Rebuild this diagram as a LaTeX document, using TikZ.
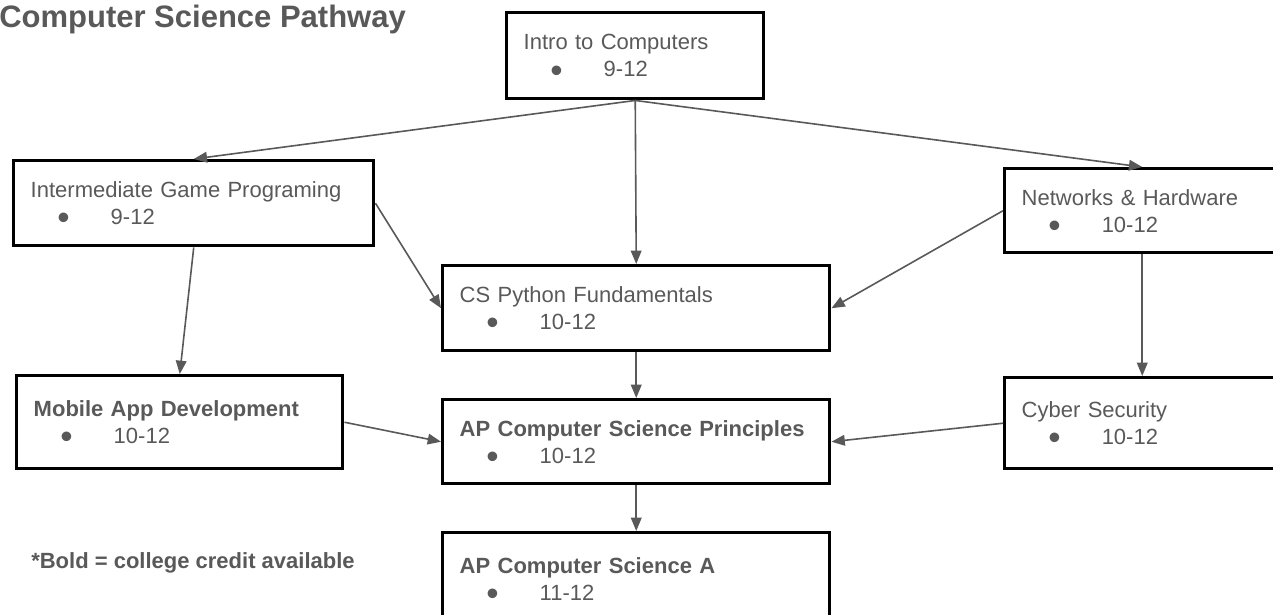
\documentclass[tikz,border=0pt]{standalone}
\usepackage{fontspec}
\usepackage{graphicx}
\setmainfont{Liberation Sans}
\usetikzlibrary{arrows.meta}

\definecolor{textgray}{RGB}{89,89,89}
\definecolor{linegray}{RGB}{89,89,89}
\newcommand{\grades}[1]{\hspace*{20pt}\makebox[40pt][l]{\smash{\raisebox{-3.9pt}{\scalebox{1.6}{\textbullet}}}}#1}

\begin{document}
\begin{tikzpicture}[x=0.75pt, y=-0.75pt,
    course/.style={draw=black, line width=2.6pt, anchor=north west, align=left,
        inner xsep=12.75pt, inner ysep=3pt, text=textgray,
        font=\fontsize{16.5pt}{20.25pt}\selectfont},
    link/.style={draw=linegray, line width=1.2pt, -{Triangle[length=10pt, width=8pt]}},
    caption/.style={anchor=base west, inner sep=0pt, text=textgray}]
                \useasboundingbox (0, 0) rectangle (1273, 614);
                \clip (0, 0) rectangle (1273, 614);
                % Headings
                \node (title) [caption, font=\bfseries\fontsize{23.25pt}{28pt}\selectfont] at (-1, 27) {Computer Science Pathway};
                \node (note) [caption, font=\bfseries\fontsize{16.5pt}{20pt}\selectfont] at (31, 568) {*Bold = college credit available};
                % Row 1
                \node (intro) [course, text width=167.25pt, minimum height=64.5pt] at (505, 11) {Intro to Computers\\\grades{9-12}};
                % Row 2
                \node (game) [course, text width=244.5pt, minimum height=63.75pt] at (12, 159) {Intermediate Game Programing\\\grades{9-12}};
                \node (net) [course, text width=180.75pt, minimum height=63pt] at (1003, 167) {Networks \& Hardware\\\grades{10-12}};
                % Row 3
                \node (python) [course, text width=264.75pt, minimum height=63.75pt] at (441, 264) {CS Python Fundamentals\\\grades{10-12}};
                % Row 4
                \node (mobile) [course, text width=219pt, minimum height=69.75pt] at (15, 374) {\textbf{Mobile App Development}\\\grades{10-12}};
                \node (apcsp) [course, text width=264.75pt, minimum height=63pt] at (441, 398) {\textbf{AP Computer Science Principles}\\\grades{10-12}};
                \node (cyber) [course, text width=180.75pt, minimum height=68.25pt] at (1003, 376) {Cyber Security\\\grades{10-12}};
                % Row 5
                \node (apcsa) [course, text width=264.75pt, minimum height=69pt] at (441, 531) {\textbf{AP Computer Science A}\\\grades{11-12}};
                % From the intro course
                \draw [link] (intro.south) -- (game.north);
                \draw [link] (intro.south) -- (python.north);
                \draw [link] (intro.south) -- (net.north);
                % Side courses
                \draw [link] (game.east) -- (python.west);
                \draw [link] (game.south) -- (mobile.north);
                \draw [link] (net.west) -- (python.east);
                \draw [link] (net.south) -- (cyber.north);
                % Into the AP courses
                \draw [link] (python.south) -- (apcsp.north);
                \draw [link] (mobile.east) -- (apcsp.west);
                \draw [link] (cyber.west) -- (apcsp.east);
                \draw [link] (apcsp.south) -- (apcsa.north);
            \end{tikzpicture}
\end{document}
